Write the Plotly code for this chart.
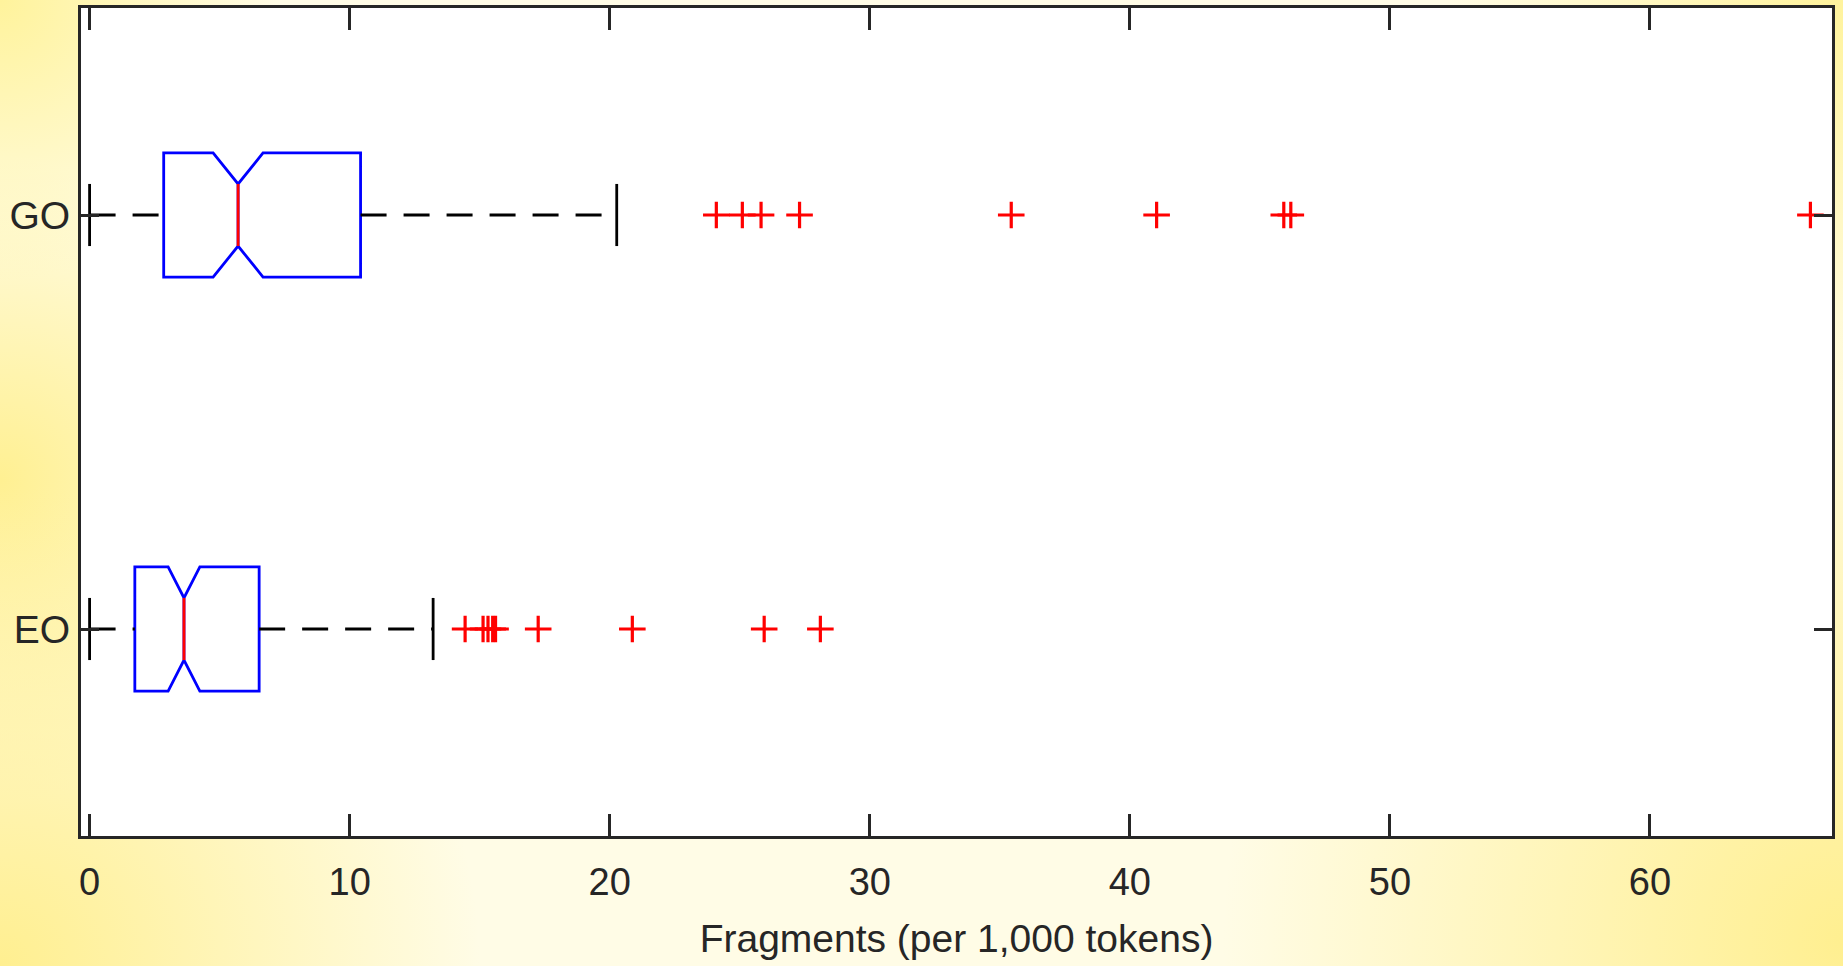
import base64
import plotly.graph_objects as go

# ---------------- data ----------------
categories = ["EO", "GO"]
cat_pos = [1, 2]
q1 = [1.74, 2.85]
median = [3.63, 5.71]
q3 = [6.52, 10.42]
notch_lo = [3.02, 4.75]
notch_hi = [4.24, 6.67]
whisker_lo = [0.0, 0.0]
whisker_hi = [13.21, 20.27]
outliers_EO = [14.44, 15.13, 15.32, 15.50, 15.61, 17.25, 20.87, 25.94, 28.10]
outliers_GO = [24.10, 25.10, 25.82, 27.30, 35.44, 41.03, 45.92, 46.19, 66.17]
outliers = [outliers_EO, outliers_GO]
x_ticks = [0, 10, 20, 30, 40, 50, 60]

# ---------------- style ----------------
FONT = "Liberation Sans, Arial, Helvetica, sans-serif"
AXC = "#262626"
BOX_W = 0.30
HALF = BOX_W / 2
NOTCH_W = 0.25          # plotly: narrow part = box * (1 - 2*notchwidth)
CAP_HALF = HALF * (1 - 2 * NOTCH_W)
LW = 2.8

fig = go.Figure()

for i, cat in enumerate(categories):
    y0 = cat_pos[i]
    # notched box (whiskers collapsed; drawn separately)
    fig.add_trace(go.Box(
        orientation="h", y=[y0], q1=[q1[i]], median=[median[i]], q3=[q3[i]],
        lowerfence=[q1[i]], upperfence=[q3[i]],
        notched=True, notchspan=[(notch_hi[i] - notch_lo[i]) / 2],
        notchwidth=NOTCH_W, width=BOX_W, whiskerwidth=0,
        boxpoints=False, fillcolor="rgba(0,0,0,0)",
        line=dict(color="#0000FF", width=LW), showlegend=False, hoverinfo="skip"))
    # dashed whiskers
    for xa, xb in [(whisker_lo[i], q1[i]), (q3[i], whisker_hi[i])]:
        fig.add_trace(go.Scatter(
            x=[xa, xb], y=[y0, y0], mode="lines",
            line=dict(color="black", width=LW, dash="26px,17px"),
            showlegend=False, hoverinfo="skip"))
    # whisker caps
    for xc in [whisker_lo[i], whisker_hi[i]]:
        fig.add_trace(go.Scatter(
            x=[xc, xc], y=[y0 - CAP_HALF, y0 + CAP_HALF], mode="lines",
            line=dict(color="black", width=LW),
            showlegend=False, hoverinfo="skip"))
    # red median (drawn above the box layer)
    fig.add_shape(type="line", xref="x", yref="y",
                  x0=median[i], x1=median[i], y0=y0 - CAP_HALF, y1=y0 + CAP_HALF,
                  line=dict(color="#FF0000", width=LW), layer="above")
    # outliers
    fig.add_trace(go.Scatter(
        x=outliers[i], y=[y0] * len(outliers[i]), mode="markers",
        marker=dict(symbol="cross-thin", size=19, line=dict(color="#FF0000", width=3.2)),
        showlegend=False, hoverinfo="skip"))

# ---------------- background gradient ----------------
W, H = 1843, 966
svg = f"""<svg xmlns='http://www.w3.org/2000/svg' width='{W}' height='{H}' viewBox='0 0 {W} {H}' preserveAspectRatio='none'>
<defs>
<radialGradient id='g1' gradientUnits='userSpaceOnUse' cx='0' cy='480' r='320'><stop offset='0' stop-color='#FFF092' stop-opacity='1'/><stop offset='1' stop-color='#FFF092' stop-opacity='0'/></radialGradient>
<radialGradient id='g2' gradientUnits='userSpaceOnUse' cx='0' cy='966' r='480'><stop offset='0' stop-color='#FFEF90' stop-opacity='1'/><stop offset='1' stop-color='#FFEF90' stop-opacity='0'/></radialGradient>
<radialGradient id='g3' gradientUnits='userSpaceOnUse' cx='1843' cy='940' r='620'><stop offset='0' stop-color='#FFEF90' stop-opacity='1'/><stop offset='1' stop-color='#FFEF90' stop-opacity='0'/></radialGradient>
<radialGradient id='g4' gradientUnits='userSpaceOnUse' cx='1843' cy='0' r='400'><stop offset='0' stop-color='#FFF39C' stop-opacity='1'/><stop offset='1' stop-color='#FFF39C' stop-opacity='0'/></radialGradient>
<radialGradient id='g5' gradientUnits='userSpaceOnUse' cx='0' cy='0' r='280'><stop offset='0' stop-color='#FFF39C' stop-opacity='1'/><stop offset='1' stop-color='#FFF39C' stop-opacity='0'/></radialGradient>
</defs>
<rect width='{W}' height='{H}' fill='#FFFCE6'/>
<rect width='{W}' height='{H}' fill='url(#g1)'/>
<rect width='{W}' height='{H}' fill='url(#g2)'/>
<rect width='{W}' height='{H}' fill='url(#g3)'/>
<rect width='{W}' height='{H}' fill='url(#g4)'/>
<rect width='{W}' height='{H}' fill='url(#g5)'/>
</svg>"""
src = "data:image/svg+xml;base64," + base64.b64encode(svg.encode()).decode()

ML, MR, MT, MB = 81, 11, 8, 130
pw, ph = W - ML - MR, H - MT - MB

fig.add_layout_image(dict(
    source=src, xref="paper", yref="paper",
    x=-ML / pw, y=1 + MT / ph, sizex=W / pw, sizey=H / ph,
    xanchor="left", yanchor="top", sizing="stretch", layer="below"))
fig.add_shape(type="rect", xref="paper", yref="paper", x0=0, y0=0, x1=1, y1=1,
              fillcolor="white", line=dict(width=0), layer="below")

fig.update_layout(
    width=W, height=H,
    margin=dict(l=ML, r=MR, t=MT, b=MB, pad=0),
    paper_bgcolor="#FFFCE6", plot_bgcolor="white",
    font=dict(family=FONT, size=38, color=AXC),
    showlegend=False,
    xaxis=dict(
        range=[-0.33, 67.0], tickvals=x_ticks, ticktext=[str(t) for t in x_ticks],
        ticks="inside", ticklen=22, tickwidth=2.6, tickcolor=AXC,
        showline=True, linewidth=3, linecolor=AXC, mirror="allticks",
        showgrid=False, zeroline=False, ticklabelstandoff=10, automargin=False,
        tickfont=dict(family=FONT, size=38, color=AXC),
        title=dict(text="Fragments (per 1,000 tokens)", standoff=24,
                   font=dict(family=FONT, size=39, color=AXC)),
    ),
    yaxis=dict(
        range=[0.5, 2.5], tickvals=cat_pos, ticktext=categories,
        ticks="inside", ticklen=18, tickwidth=2.6, tickcolor=AXC,
        showline=True, linewidth=3, linecolor=AXC, mirror="allticks",
        showgrid=False, zeroline=False, ticklabelstandoff=0, automargin=False,
        tickfont=dict(family=FONT, size=39, color=AXC),
    ),
)

fig.write_html("out.html", config={"displayModeBar": False},
               post_script="document.body.style.margin='0';document.body.style.overflow='hidden';")
